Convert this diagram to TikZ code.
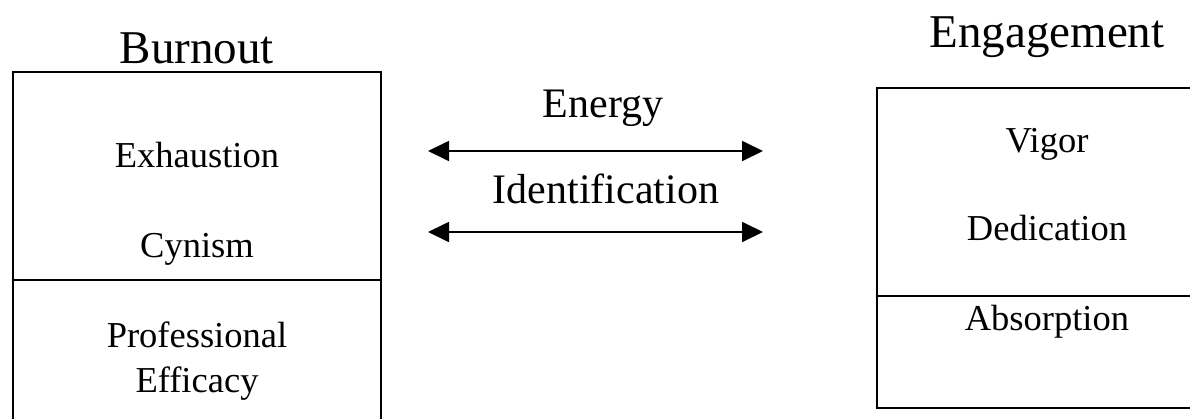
\documentclass[tikz,border=0pt]{standalone}
\usepackage{fontspec}
\setmainfont{Liberation Serif}
\usetikzlibrary{arrows.meta}
\begin{document}
\begin{tikzpicture}[x=1pt,y=-1pt,
  boxpart/.style={draw=black,line width=1.8pt,inner sep=0pt,minimum width=#1},
  title/.style={anchor=base,font=\fontsize{47}{50}\selectfont},
  item/.style={anchor=base,font=\fontsize{36.5}{40}\selectfont},
  mid/.style={anchor=base,font=\fontsize{42}{46}\selectfont},
  dbl/.style={line width=1.8pt,{Triangle[length=21pt,width=20pt]}-{Triangle[length=21pt,width=20pt]}}]
\useasboundingbox (0,0) rectangle (1190,418);
\clip (0,0) rectangle (1190,418);
% left box
\node[boxpart=368pt,minimum height=208pt,anchor=north west] (bt) at (12,71) {};
\node[boxpart=368pt,minimum height=160pt,anchor=north west] (bb) at (12,279) {};
% right box
\node[boxpart=342pt,minimum height=208pt,anchor=north west] (et) at (876,87) {};
\node[boxpart=342pt,minimum height=112pt,anchor=north west] (eb) at (876,295) {};
% titles
\node[title] (burnout) at (197,63) {Burnout};
\node[title] (engagement) at (1047,47) {Engagement};
% left items
\node[item] (exh) at (197,167) {Exhaustion};
\node[item] (cyn) at (197,257) {Cynism};
\node[item] (prof) at (197,347) {Professional};
\node[item] (eff) at (197,392) {Efficacy};
% right items
\node[item] (vig) at (1047,152) {Vigor};
\node[item] (ded) at (1047,240) {Dedication};
\node[item] (abs) at (1047,330) {Absorption};
% middle
\node[mid] (energy) at (603,117) {Energy};
\node[mid] (ident) at (606,203) {Identification};
\coordinate (e1) at (428,151);
\coordinate (e2) at (763,151);
\coordinate (i1) at (428,232);
\coordinate (i2) at (763,232);
\draw[dbl] (e1) -- (e2);
\draw[dbl] (i1) -- (i2);
\end{tikzpicture}
\end{document}
